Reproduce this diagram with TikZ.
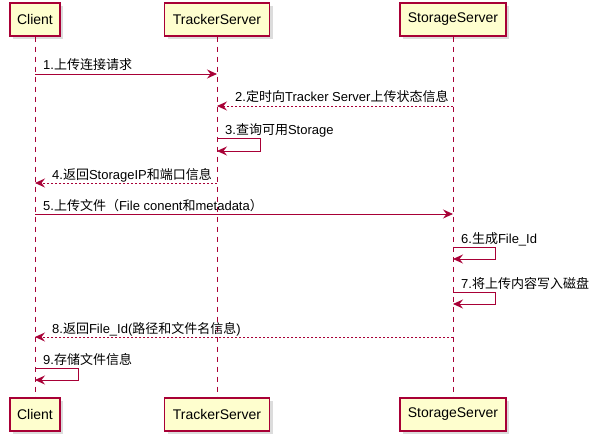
\documentclass[tikz,border=0pt]{standalone}
\usepackage{fontspec}
\setmainfont{Liberation Sans}
\newfontfamily\cjk{Noto Sans CJK SC}
\usetikzlibrary{arrows.meta,shadows}
\definecolor{uline}{HTML}{A80036}
\definecolor{ufill}{HTML}{FEFECE}
\begin{document}
\begin{tikzpicture}[x=1pt,y=-1pt,
  part/.style={draw=uline, fill=ufill, line width=1.1pt, minimum height=33pt, inner sep=0pt,
    font=\fontsize{14}{16}\selectfont,
    drop shadow={shadow xshift=3pt, shadow yshift=-3pt, fill=black!30, opacity=0.45}},
  lifeline/.style={draw=uline, line width=0.9pt, dash pattern=on 5pt off 5pt},
  msgline/.style={draw=uline, line width=0.9pt, -{Stealth[length=10pt,width=9pt,inset=3.5pt]}},
  retline/.style={msgline, dash pattern=on 2pt off 2pt},
  msg/.style={font=\fontsize{13}{15}\selectfont, inner sep=0pt, anchor=base west}
]
\useasboundingbox (0,0) rectangle (599,441);
% participants
\node[part, minimum width=50pt]  (ct) at (35,19.5) {Client};
\node[part, minimum width=105pt] (tt) at (217,19.5) {TrackerServer};
\node[part, minimum width=106pt] (st) at (453,19.5) {StorageServer};
\node[part, minimum width=50pt]  (cb) at (35,414.5) {Client};
\node[part, minimum width=105pt] (tb) at (217,414.5) {TrackerServer};
\node[part, minimum width=106pt] (sb) at (453,414.5) {StorageServer};
% lifelines
\draw[lifeline] (ct.south) -- (cb.north);
\draw[lifeline] (tt.south) -- (tb.north);
\draw[lifeline] (st.south) -- (sb.north);
% message anchors
\coordinate (c1) at (35,74);   \coordinate (t1) at (217,74);
\coordinate (s2) at (453,106); \coordinate (t2) at (217,106);
\coordinate (t3a) at (217,138); \coordinate (t3b) at (217,151);
\coordinate (t4) at (217,183); \coordinate (c4) at (35,183);
\coordinate (c5) at (35,214);  \coordinate (s5) at (453,214);
\coordinate (s6a) at (453,247); \coordinate (s6b) at (453,259);
\coordinate (s7a) at (453,292); \coordinate (s7b) at (453,304);
\coordinate (s8) at (453,337); \coordinate (c8) at (35,337);
\coordinate (c9a) at (35,368); \coordinate (c9b) at (35,380);
% messages
\draw[msgline] (c1) -- (t1);
\node[msg] (m1) at (43,70) {1.{\cjk 上传连接请求}};
\draw[retline] (s2) -- (t2);
\node[msg] (m2) at (235,102) {2.{\cjk 定时向}Tracker Server{\cjk 上传状态信息}};
\draw[msgline] (t3a) -- ++(43,0) |- (t3b);
\node[msg] (m3) at (225,134) {3.{\cjk 查询可用}Storage};
\draw[retline] (t4) -- (c4);
\node[msg] (m4) at (52,179) {4.{\cjk 返回}StorageIP{\cjk 和端口信息}};
\draw[msgline] (c5) -- (s5);
\node[msg] (m5) at (43,210) {5.{\cjk 上传文件（}File conent{\cjk 和}metadata{\cjk ）}};
\draw[msgline] (s6a) -- ++(42,0) |- (s6b);
\node[msg] (m6) at (461,243) {6.{\cjk 生成}File\_Id};
\draw[msgline] (s7a) -- ++(42,0) |- (s7b);
\node[msg] (m7) at (461,288) {7.{\cjk 将上传内容写入磁盘}};
\draw[retline] (s8) -- (c8);
\node[msg] (m8) at (52,333) {8.{\cjk 返回}File\_Id({\cjk 路径和文件名信息})};
\draw[msgline] (c9a) -- ++(43,0) |- (c9b);
\node[msg] (m9) at (43,364) {9.{\cjk 存储文件信息}};
\end{tikzpicture}
\end{document}
